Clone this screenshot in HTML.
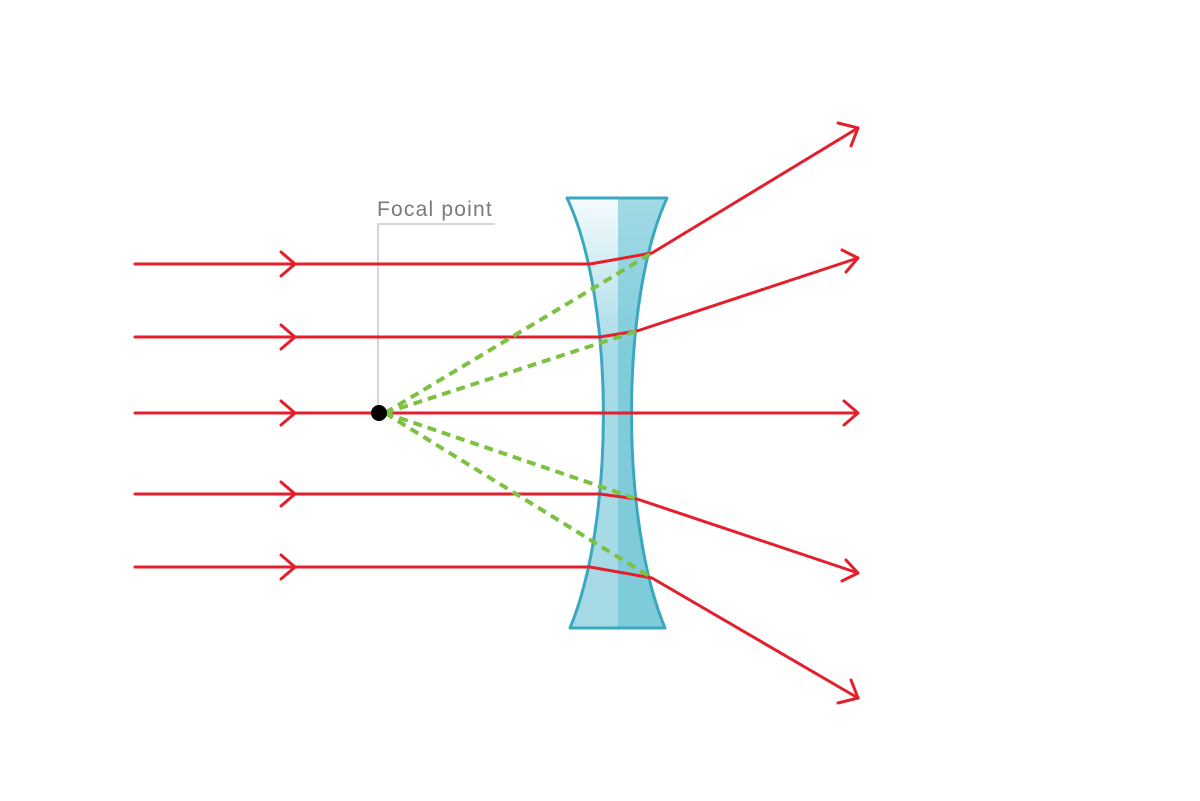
<!DOCTYPE html>
<html><head><style>body{margin:0;background:#fff}svg{display:block}</style></head>
<body>
<svg width="1200" height="801" viewBox="0 0 1200 801" xmlns="http://www.w3.org/2000/svg">
<defs>
<linearGradient id="lg" x1="0" y1="0" x2="0" y2="1">
<stop offset="0" stop-color="#f4fbfd"/><stop offset="0.35" stop-color="#a9dbe6"/><stop offset="1" stop-color="#a5d9e4"/>
</linearGradient>
</defs>
<path d="M567,198 L667,198 C620,300 620,520 665,628 L570,628 C615,520 615,300 567,198 Z" fill="url(#lg)"/>
<path d="M618,198 L667,198 C620,300 620,520 665,628 L618,628 Z" fill="#5fbfd1" opacity="0.55"/>
<path d="M567,198 L667,198 C620,300 620,520 665,628 L570,628 C615,520 615,300 567,198 Z" fill="none" stroke="#3aa9bf" stroke-width="3" stroke-linejoin="round"/>
<polyline points="378,405 378,224 495,224" fill="none" stroke="#c8c8c8" stroke-width="1.5"/>
<text x="377" y="216" font-family="Liberation Sans, sans-serif" font-size="21" letter-spacing="1.2" fill="#7a7a7a">Focal point</text>
<g stroke="#e41e2b" stroke-width="3" fill="none" stroke-linejoin="round" stroke-linecap="round">
<polyline points="135,264 590,264 652,253 858,128"/>
<polyline points="135,337 600,337 637,331 858,258"/>
<polyline points="135,413 858,413"/>
<polyline points="135,494 600,494 637,499 858,573"/>
<polyline points="135,567 590,567 652,578 858,698"/>
<polyline points="281,252 295,264 281,276"/>
<polyline points="281,325 295,337 281,349"/>
<polyline points="281,401 295,413 281,425"/>
<polyline points="281,482 295,494 281,506"/>
<polyline points="281,555 295,567 281,579"/>
<polyline points="838,123 858,128 851,146"/>
<polyline points="842,250 858,258 846,272"/>
<polyline points="844,401 858,413 844,425"/>
<polyline points="846,560 858,573 842,581"/>
<polyline points="851,680 858,698 838,703"/>
</g>
<g stroke="#7dc142" stroke-width="4" stroke-dasharray="9,6" fill="none">
<line x1="385" y1="413" x2="652" y2="253"/>
<line x1="385" y1="413" x2="637" y2="331"/>
<line x1="385" y1="413" x2="637" y2="499"/>
<line x1="385" y1="413" x2="652" y2="578"/>
</g>
<circle cx="379" cy="413" r="8" fill="#000"/>
</svg>
</body></html>
